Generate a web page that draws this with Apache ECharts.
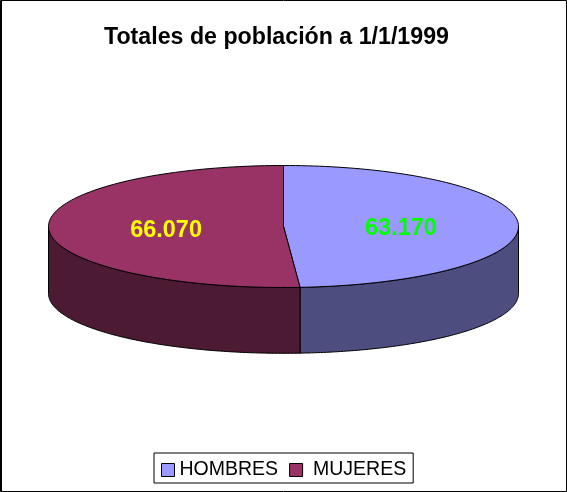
<!DOCTYPE html>
<html><head><meta charset="utf-8">
<style>html,body{margin:0;padding:0;background:#fff}#c{width:567px;height:492px}</style>
<script src="https://cdn.jsdelivr.net/npm/echarts@6/dist/echarts.min.js"></script>
</head><body><div id="c"></div>
<script>
var categories = ['HOMBRES', 'MUJERES'];
var values = [63170, 66070];
var valueLabels = ['63.170', '66.070'];
var topColors = ['#9999FF', '#993366'];
var sideColors = ['#4D4D80', '#4D1A33'];
var labelColors = ['#00FF00', '#FFFF00'];

var total = values[0] + values[1];
var CX = 283.5, CY = 226.5, RX = 235, RY = 61, BCY = 293.5, BRY = 59.8;
function topPt(a) { return [CX + RX * Math.sin(a), CY - RY * Math.cos(a)]; }
function botPt(a) { return [CX + RX * Math.sin(a), BCY - BRY * Math.cos(a)]; }
function arc(fn, a0, a1) {
  var pts = [], n = 120;
  for (var i = 0; i <= n; i++) pts.push(fn(a0 + (a1 - a0) * i / n));
  return pts;
}
var line = { stroke: '#000', lineWidth: 1 };
function renderSlice(idx) {
  return function (params, api) {
    var before = idx === 0 ? 0 : values[0];
    var v = api.value(0);
    var a0 = before / total * 2 * Math.PI, a1 = (before + v) / total * 2 * Math.PI;
    var s0 = Math.max(a0, Math.PI / 2), s1 = Math.min(a1, Math.PI * 1.5);
    var sidePts = arc(topPt, s0, s1).concat(arc(botPt, s1, s0));
    var topPts = [[CX, CY]].concat(arc(topPt, a0, a1));
    var mid = (a0 + a1) / 2;
    var lp = [CX + RX * 0.5 * Math.sin(mid), CY - RY * 0.5 * Math.cos(mid) + 3];
    return {
      type: 'group',
      children: [
        { type: 'polygon', shape: { points: sidePts }, style: Object.assign({ fill: sideColors[idx] }, line) },
        { type: 'polygon', shape: { points: topPts }, style: Object.assign({ fill: topColors[idx] }, line) },
        { type: 'text', x: lp[0], y: lp[1], style: {
            text: valueLabels[idx], fill: labelColors[idx], align: 'center', verticalAlign: 'middle',
            font: 'bold 23.5px "Liberation Sans", Arial, sans-serif' } }
      ]
    };
  };
}
var chart = echarts.init(document.getElementById('c'), null, { renderer: 'canvas' });
chart.setOption({
  animation: false,
  backgroundColor: '#fff',
  title: {
    text: 'Totales de población a 1/1/1999', left: 99, top: 21,
    textStyle: { fontFamily: '"Liberation Sans", Arial, sans-serif', fontWeight: 'bold', fontSize: 23.2, color: '#000' }
  },
  legend: {
    data: categories, left: 154, top: 453, orient: 'horizontal',
    padding: [7, 7, 3, 7], itemGap: 11, itemWidth: 13, itemHeight: 13, icon: 'rect',
    borderColor: '#000', borderWidth: 1, backgroundColor: '#fff',
    itemStyle: { borderColor: '#000', borderWidth: 1 },
    selectedMode: false,
    formatter: function (n) { return n === 'MUJERES' ? '\u00a0' + n : n; },
    textStyle: { fontFamily: '"Liberation Sans", Arial, sans-serif', fontSize: 19.5, color: '#000' }
  },
  graphic: [
    { type: 'rect', silent: true, z: 100,
      shape: { x: 0.5, y: 0.5, width: 566, height: 491 }, style: { fill: 'none', stroke: '#000', lineWidth: 1 } },
    { type: 'line', silent: true, z: 100,
      shape: { x1: 1.5, y1: 0, x2: 1.5, y2: 492 }, style: { stroke: '#000', lineWidth: 1 } }
  ],
  series: categories.map(function (name, i) {
    return {
      type: 'custom', name: name, coordinateSystem: 'none',
      itemStyle: { color: topColors[i] },
      renderItem: renderSlice(i),
      data: [[values[i]]]
    };
  })
});
</script></body></html>
